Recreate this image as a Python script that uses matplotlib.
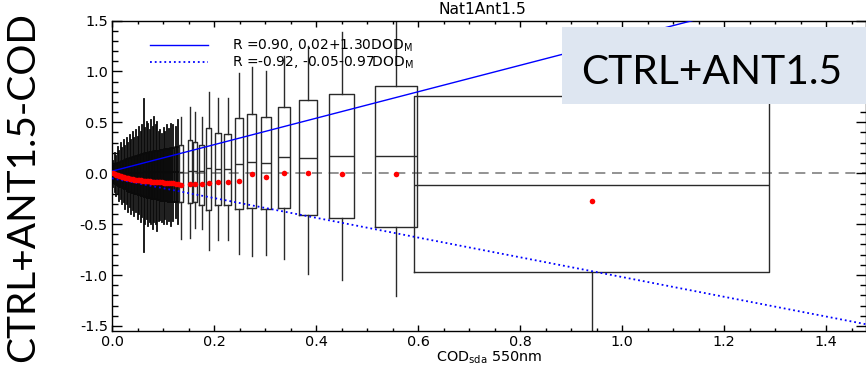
import matplotlib
matplotlib.use("Agg")
import matplotlib.pyplot as plt
from matplotlib.patches import Rectangle

# bins of COD (sda, 550nm) with box stats of CTRL+ANT1.5 - COD
cod_bin = [0.002, 0.005, 0.008, 0.011, 0.014, 0.017, 0.020, 0.023, 0.026, 0.029,
           0.032, 0.035, 0.038, 0.041, 0.044, 0.047, 0.050, 0.053, 0.056, 0.059,
           0.062, 0.065, 0.068, 0.071, 0.074, 0.077, 0.080, 0.083, 0.086, 0.089,
           0.092, 0.095, 0.098, 0.101, 0.104, 0.108, 0.112, 0.116, 0.120, 0.125,
           0.130,
           0.135, 0.153, 0.163, 0.176, 0.190, 0.2075, 0.227, 0.249, 0.2735, 0.302,
           0.337, 0.384, 0.450, 0.556, 0.940]
box_width = [0.0034] * 41 + [0.0072, 0.007, 0.008, 0.0098, 0.0098, 0.011, 0.013, 0.015,
                             0.0165, 0.0185, 0.023, 0.034, 0.049, 0.082, 0.697]
whisk_hi = [0.12, 0.20, 0.17, 0.26, 0.22, 0.30, 0.25, 0.33, 0.27, 0.35,
            0.30, 0.38, 0.33, 0.40, 0.35, 0.42, 0.36, 0.45, 0.40, 0.47,
            0.73, 0.44, 0.50, 0.48, 0.42, 0.52, 0.45, 0.55, 0.47, 0.50,
            0.40, 0.42, 0.39, 0.44, 0.40, 0.47, 0.43, 0.48, 0.47, 0.45,
            0.52,
            0.555, 0.65, 0.60, 0.555, 0.80, 0.735, 0.735, 0.98, 1.04, 1.00,
            1.15, 1.25, 1.39, 1.60, 1.40]
whisk_lo = [-0.14, -0.18, -0.22, -0.20, -0.27, -0.25, -0.30, -0.28, -0.35, -0.30,
            -0.38, -0.33, -0.40, -0.36, -0.42, -0.38, -0.45, -0.40, -0.48, -0.43,
            -0.77, -0.50, -0.45, -0.52, -0.48, -0.50, -0.55, -0.48, -0.50, -0.57,
            -0.47, -0.46, -0.48, -0.50, -0.45, -0.50, -0.47, -0.52, -0.47, -0.44,
            -0.50,
            -0.65, -0.64, -0.54, -0.55, -0.75, -0.654, -0.654, -0.794, -0.81, -0.804,
            -0.84, -0.99, -1.05, -1.21, -1.60]
q3 = [0.07, 0.08, 0.09, 0.10, 0.10, 0.11, 0.12, 0.12, 0.13, 0.14,
      0.14, 0.15, 0.15, 0.16, 0.16, 0.17, 0.17, 0.18, 0.18, 0.19,
      0.19, 0.20, 0.20, 0.20, 0.21, 0.21, 0.21, 0.22, 0.22, 0.22,
      0.22, 0.23, 0.23, 0.23, 0.24, 0.24, 0.24, 0.25, 0.25, 0.26,
      0.26,
      0.278, 0.327, 0.31, 0.28, 0.44, 0.392, 0.389, 0.539, 0.578, 0.549,
      0.65, 0.719, 0.777, 0.86, 0.758]
q1 = [-0.09, -0.10, -0.11, -0.12, -0.13, -0.14, -0.14, -0.15, -0.16, -0.16,
      -0.17, -0.18, -0.18, -0.19, -0.19, -0.20, -0.20, -0.21, -0.21, -0.22,
      -0.22, -0.23, -0.23, -0.24, -0.24, -0.24, -0.25, -0.25, -0.25, -0.26,
      -0.26, -0.26, -0.27, -0.27, -0.27, -0.27, -0.28, -0.28, -0.28, -0.28,
      -0.28,
      -0.278, -0.294, -0.28, -0.31, -0.36, -0.31, -0.311, -0.353, -0.346, -0.353,
      -0.346, -0.415, -0.444, -0.526, -0.974]
med = [0.0] * 20 + [0.01] * 21 + [0.01, 0.02, 0.02, 0.02, 0.049, 0.042, 0.042, 0.095,
                                   0.114, 0.101, 0.157, 0.147, 0.17, 0.17, -0.111]
bin_mean = [0.000, -0.008, -0.015, -0.021, -0.027, -0.032, -0.036, -0.040, -0.044, -0.048,
            -0.051, -0.054, -0.057, -0.060, -0.062, -0.065, -0.067, -0.069, -0.071, -0.073,
            -0.075, -0.077, -0.078, -0.080, -0.081, -0.083, -0.084, -0.085, -0.087, -0.088,
            -0.089, -0.090, -0.091, -0.092, -0.093, -0.095, -0.097, -0.099, -0.101, -0.103,
            -0.105,
            -0.114, -0.108, -0.108, -0.106, -0.098, -0.082, -0.09, -0.075, -0.01, -0.036,
            0.003, 0.0, -0.01, -0.006, -0.271]
n_dense = 41

# regression lines y = a + b*x
fit_a = [0.02, -0.05]
fit_b = [1.30, -0.97]
fit_lab = [r'R =0.90, 0.02+1.30DOD$_{\mathrm{M}}$', r'R =-0.92, -0.05-0.97DOD$_{\mathrm{M}}$']
fit_ls = ['-', ':']

plt.rcParams['font.family'] = 'DejaVu Sans'
W, H = 866, 365
fig = plt.figure(figsize=(W / 100, H / 100), dpi=100)
ax = fig.add_axes([112 / W, 1 - 331 / H, 1 - 112 / W, (331 - 20.5) / H])
xmax = 1.478
ax.set_xlim(0, xmax)
ax.set_ylim(-1.55, 1.5)

ax.axhline(0, color='#808080', lw=1.2, ls=(0, (6, 4)), zorder=1)

stats = []
for i in range(len(cod_bin)):
    stats.append(dict(med=med[i], q1=q1[i], q3=q3[i], whislo=whisk_lo[i], whishi=whisk_hi[i]))

# dense bins near zero (merge into a black mass) and the wider bins
for sl, lc, lw in [(slice(0, n_dense), '#0a0a0a', 1.3), (slice(n_dense, None), '#2a2a2a', 1.0)]:
    ax.bxp(stats[sl], positions=cod_bin[sl], widths=box_width[sl], showcaps=False,
           showfliers=False, manage_ticks=False,
           boxprops=dict(color=lc, lw=lw), whiskerprops=dict(color=lc, lw=lw),
           medianprops=dict(color=lc, lw=lw))

xx = [0, xmax]
for a, b, ls, lab in zip(fit_a, fit_b, fit_ls, fit_lab):
    ax.plot(xx, [a + b * v for v in xx], color='#0000ff', lw=1.0 if ls == '-' else 1.3,
            ls=ls, label=lab, zorder=4)

ax.plot(cod_bin, bin_mean, 'o', color='#ff0000', ms=4.0, mec='none', zorder=5)

ax.set_xticks([0, 0.2, 0.4, 0.6, 0.8, 1.0, 1.2, 1.4])
ax.set_xticks([i * 0.05 for i in range(30)], minor=True)
ax.set_yticks([-1.5, -1.0, -0.5, 0.0, 0.5, 1.0, 1.5])
ax.set_yticks([-1.5 + i * 0.1 for i in range(31)], minor=True)
ax.xaxis.set_major_formatter(lambda v, p: f'{v:.1f}')
ax.yaxis.set_major_formatter(lambda v, p: f'{v:.1f}')
ax.tick_params(which='both', direction='in', top=True, right=True, labelsize=10.4, pad=3)
ax.tick_params(axis='y', which='major', length=7, width=1)
ax.tick_params(axis='y', which='minor', length=4, width=1)
ax.tick_params(axis='x', which='major', length=4, width=1)
ax.tick_params(axis='x', which='minor', length=2.5, width=1)
for s in ax.spines.values():
    s.set_linewidth(1.0)

ax.set_xlabel(r'COD$_{\mathrm{sda}}$ 550nm', fontsize=10.4, labelpad=0)
fig.text(482 / W, 1 - 14 / H, 'Nat1Ant1.5', fontsize=11.2, ha='center', va='baseline')

ax.legend(loc='upper left', bbox_to_anchor=(150 / W, 1 - 38 / H), bbox_transform=fig.transFigure,
          frameon=False, fontsize=10, handlelength=4.2, handletextpad=1.7, labelspacing=0.0,
          borderpad=0, borderaxespad=0)

# slide overlays
fig.text(23 / W, 1 - 187 / H, 'CTRL+ANT1.5-COD', rotation=90, fontsize=28, family='Lato',
         ha='center', va='center')
fig.patches.append(Rectangle((562 / W, 1 - 104 / H), (W - 562) / W, 77 / H,
                             transform=fig.transFigure, facecolor='#dee6f1', edgecolor='none',
                             zorder=10))
fig.text(712 / W, 1 - 84 / H, 'CTRL+ANT1.5', fontsize=29.3, family='Lato', ha='center',
         va='baseline', zorder=11)

fig.savefig('out.png', dpi=100)
